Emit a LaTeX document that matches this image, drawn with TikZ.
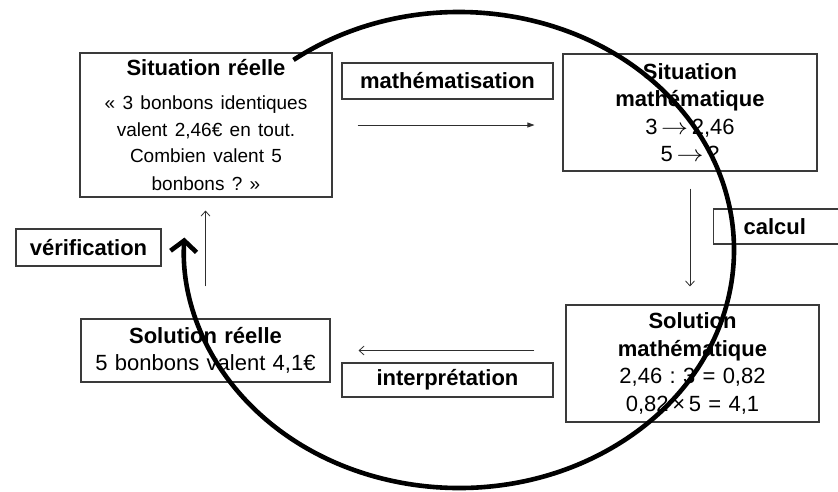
\documentclass[tikz,border=0pt]{standalone}
\usepackage{graphicx}
\usepackage{fontspec}
\setmainfont{Liberation Sans}
\frenchspacing
\usetikzlibrary{arrows.meta,positioning,calc}
\definecolor{boxline}{HTML}{3A3A3A}
\definecolor{arrowgray}{HTML}{2E2E2E}
\tikzset{
  box/.style={draw=boxline, line width=1.1pt, fill=white, inner sep=0pt, align=center,
    font=\fontsize{22}{27.5}\selectfont},
  tag/.style={box, font=\bfseries\fontsize{22}{27}\selectfont},
  link/.style={-{Straight Barb[length=5pt,width=9pt]}, line width=.8pt, color=arrowgray},
  linkfill/.style={-{Triangle[length=7pt,width=5pt]}, line width=.8pt, color=arrowgray},
  loopline/.style={-{Straight Barb[length=11pt,width=26pt]}, line width=4.6pt, black}
}
\newcommand{\maps}{\,\scalebox{1.3}[1.1]{$\rightarrow$}\,}
\begin{document}
\begin{tikzpicture}[x=1pt,y=-1pt]
  \useasboundingbox (0,0) rectangle (838,491);
  \clip (0,0) rectangle (838,491);

  % the four stages
  \node[box,minimum width=252pt,minimum height=144pt,text width=244pt] (reel) at (206,125)
    {\textbf{Situation réelle}\\[8pt]\fontsize{19}{26.5}\selectfont
     « 3 bonbons identiques\\valent 2,46€ en tout.\\Combien valent 5\\bonbons ? »};
  \node[box,minimum width=254pt,minimum height=117pt,text width=244pt] (smath) at (690,112.5)
    {\textbf{Situation}\\\textbf{mathématique}\\3\maps2,46\\5\maps?};
  \node[box,minimum width=253pt,minimum height=117pt,text width=244pt] (solm) at (692.5,363.5)
    {\textbf{Solution}\\\textbf{mathématique}\\2,46 : 3 = 0,82\\0,82\,×\,5 = 4,1};
  \node[box,minimum width=249pt,minimum height=63pt,text width=244pt] (solr) at (205.5,350.5)
    {\textbf{Solution réelle}\\5 bonbons valent 4,1€};

  % labels of the steps
  \node[tag,minimum width=211pt,minimum height=36pt] (mathz) at (447.5,81) {mathématisation};
  \node[tag,anchor=west,minimum height=35pt,text width=110pt,inner xsep=30pt,align=left] (calc) at (713,226.5) {calcul};
  \node[tag,minimum width=211pt,minimum height=34pt] (interp) at (447.5,380) {interprétation};
  \node[tag,minimum width=145pt,minimum height=37pt] (verif) at (88.5,247.5) {vérification};

  \draw[linkfill] ([xshift=25pt]reel.east) -- ([xshift=-28pt]reel.east -| smath.west);
  \draw[link] ([yshift=-17pt]smath.south) -- ([yshift=18pt]smath.south |- solm.north);
  \draw[link] ([xshift=-31pt]solm.west |- solr.east) -- ([xshift=28pt]solr.east);
  \draw[link] ([yshift=32pt]solr.north) -- ([yshift=-13pt]reel.south -| solr.north);

  % the whole cycle
  \coordinate (mid) at (459,250);
  \draw[loopline] (mid) ++(233:275 and 238)
    arc[start angle=233,end angle=543,x radius=275,y radius=238];
\end{tikzpicture}
\end{document}
